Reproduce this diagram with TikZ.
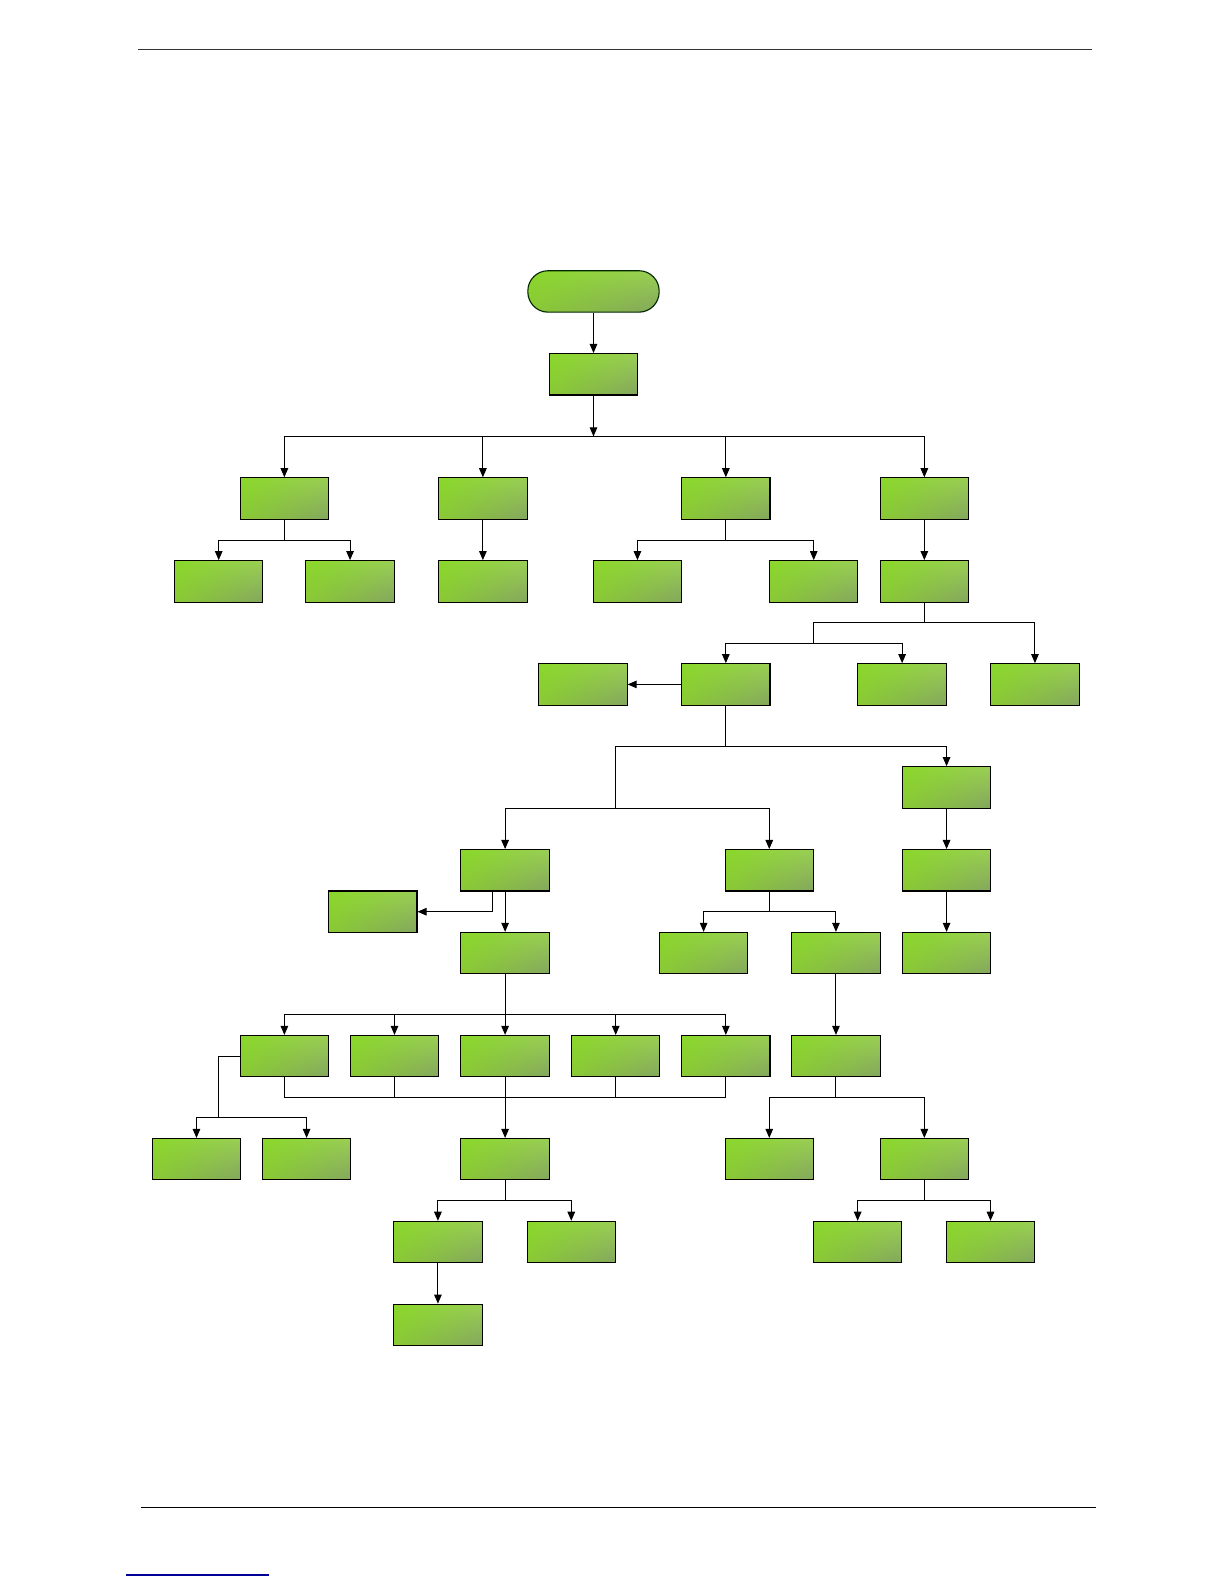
\documentclass[tikz,border=0pt]{standalone}
\usetikzlibrary{arrows.meta,calc,shadings}
\definecolor{gUL}{HTML}{8AD82A}
\definecolor{gUR}{HTML}{9ACF55}
\definecolor{gLL}{HTML}{8AC935}
\definecolor{gLR}{HTML}{84A65E}
\tikzset{
  gbox/.style={draw=black, line width=1.1pt, minimum width=87.5pt, minimum height=41pt, inner sep=0pt,
    upper left=gUL, upper right=gUR, lower left=gLL, lower right=gLR},
  term/.style={gbox, draw=black!75!green!60!black, minimum width=130pt, rounded corners=20pt},
  conn/.style={line width=1pt, black},
  arr/.style={conn, -{Triangle[length=9pt,width=7.5pt]}},
}
\begin{document}
\begin{tikzpicture}[x=1pt,y=-1pt]
\useasboundingbox (0,0) rectangle (1212,1568);
\fill[white] (0,0) rectangle (1212,1568);
% header / footer
\draw[line width=1pt, black!80] (137,49) -- (1081,49);
\draw[line width=1pt, black] (140,1492) -- (1085,1492);
\draw[line width=1.2pt, blue!60!black] (125,1559) -- (266,1559);
% nodes
\node[term] (T) at (587.5,288.5) {};
\node[gbox] (A) at (587.5,370.5) {};
\node[gbox] (B1) at (281.5,493.5) {};
\node[gbox] (B2) at (478,493.5) {};
\node[gbox] (B3) at (718.5,493.5) {};
\node[gbox] (B4) at (915,493.5) {};
\node[gbox] (C1) at (216.5,575.5) {};
\node[gbox] (C2) at (346.5,575.5) {};
\node[gbox] (C3) at (478,575.5) {};
\node[gbox] (C4) at (631,575.5) {};
\node[gbox] (C5) at (805.5,575.5) {};
\node[gbox] (C6) at (915,575.5) {};
\node[gbox] (D0) at (577,677.5) {};
\node[gbox] (D1) at (718.5,677.5) {};
\node[gbox] (D2) at (893,677.5) {};
\node[gbox] (D3) at (1024.5,677.5) {};
\node[gbox] (E3) at (937,779.5) {};
\node[gbox] (F1) at (500,861.5) {};
\node[gbox] (F2) at (761.5,861.5) {};
\node[gbox] (F3) at (937,861.5) {};
\node[gbox] (F0) at (369,902.5) {};
\node[gbox] (G1) at (500,943.5) {};
\node[gbox] (G2) at (696.5,943.5) {};
\node[gbox] (G3) at (827.5,943.5) {};
\node[gbox] (G4) at (937,943.5) {};
\node[gbox] (H1) at (281.5,1045.5) {};
\node[gbox] (H2) at (390.5,1045.5) {};
\node[gbox] (H3) at (500,1045.5) {};
\node[gbox] (H4) at (609.5,1045.5) {};
\node[gbox] (H5) at (718.5,1045.5) {};
\node[gbox] (H6) at (827.5,1045.5) {};
\node[gbox] (I0a) at (194.5,1147.5) {};
\node[gbox] (I0b) at (303.5,1147.5) {};
\node[gbox] (I2) at (500,1147.5) {};
\node[gbox] (I3) at (761.5,1147.5) {};
\node[gbox] (I4) at (915,1147.5) {};
\node[gbox] (J1) at (433.5,1229.5) {};
\node[gbox] (J2) at (565.5,1229.5) {};
\node[gbox] (J3) at (849,1229.5) {};
\node[gbox] (J4) at (980.5,1229.5) {};
\node[gbox] (K1) at (433.5,1311.5) {};
% junction coordinates
\coordinate (bus) at (587.5,432);
\coordinate (b1) at (281.5,535);
\coordinate (b3) at (718.5,535);
\coordinate (j0) at (915,616);
\coordinate (j1) at (805,616);
\coordinate (j2) at (805,637);
\coordinate (j3) at (609,739);
\coordinate (j3r) at (718.5,739);
\coordinate (j4) at (609,800);
\coordinate (f2) at (761.5,902);
\coordinate (g1) at (500,1004);
\coordinate (k) at (500,1086);
\coordinate (m) at (216,1106);
\coordinate (h6) at (827.5,1086);
\coordinate (i2) at (500,1188);
\coordinate (i4) at (915,1188);
% connectors
\draw[arr] (T) -- (A);
\draw[arr] (A) -- (bus);
\draw[arr] (bus) -| (B1.north);
\draw[arr] (bus) -| (B2.north);
\draw[arr] (bus) -| (B3.north);
\draw[arr] (bus) -| (B4.north);
\draw[conn] (B1.south) -- (b1);
\draw[arr] (b1) -| (C1.north);
\draw[arr] (b1) -| (C2.north);
\draw[arr] (B2) -- (C3);
\draw[conn] (B3.south) -- (b3);
\draw[arr] (b3) -| (C4.north);
\draw[arr] (b3) -| (C5.north);
\draw[arr] (B4) -- (C6);
\draw[conn] (C6.south) -- (j0) -- (j1) -- (j2);
\draw[arr] (j0) -| (D3.north);
\draw[arr] (j2) -| (D1.north);
\draw[arr] (j2) -| (D2.north);
\draw[arr] (D1) -- (D0);
\draw[conn] (D1.south) -- (j3r) -- (j3) -- (j4);
\draw[arr] (j3r) -| (E3.north);
\draw[arr] (j4) -| (F1.north);
\draw[arr] (j4) -| (F2.north);
\draw[arr] (E3) -- (F3);
\draw[arr] (F3) -- (G4);
\draw[arr] ([xshift=-12pt]F1.south) |- (F0.east);
\draw[arr] (F1) -- (G1);
\draw[conn] (F2.south) -- (f2);
\draw[arr] (f2) -| (G2.north);
\draw[arr] (f2) -| (G3.north);
\draw[conn] (G1.south) -- (g1);
\draw[arr] (g1) -| (H1.north);
\draw[arr] (g1) -| (H2.north);
\draw[arr] (g1) -- (H3.north);
\draw[arr] (g1) -| (H4.north);
\draw[arr] (g1) -| (H5.north);
\draw[arr] (G3) -- (H6);
\draw[conn] (H1.south) |- (k);
\draw[conn] (H5.south) |- (k);
\draw[conn] (H2.south) -- (H2.south |- k);
\draw[conn] (H4.south) -- (H4.south |- k);
\draw[arr] (H3) -- (I2);
\draw[conn] (H1.west) -| (m);
\draw[arr] (m) -| (I0a.north);
\draw[arr] (m) -| (I0b.north);
\draw[conn] (H6.south) -- (h6);
\draw[arr] (h6) -| (I3.north);
\draw[arr] (h6) -| (I4.north);
\draw[conn] (I2.south) -- (i2);
\draw[arr] (i2) -| (J1.north);
\draw[arr] (i2) -| (J2.north);
\draw[conn] (I4.south) -- (i4);
\draw[arr] (i4) -| (J3.north);
\draw[arr] (i4) -| (J4.north);
\draw[arr] (J1) -- (K1);
\end{tikzpicture}
\end{document}
